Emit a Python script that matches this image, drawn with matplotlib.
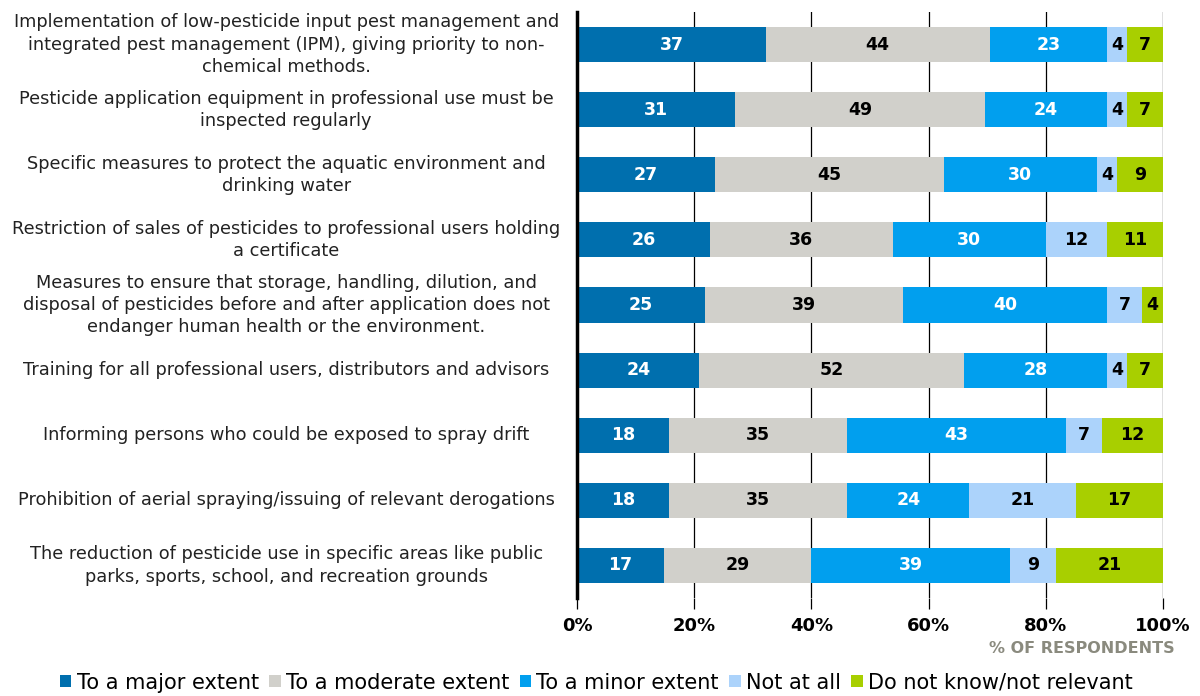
import matplotlib
matplotlib.use('Agg')
import matplotlib.pyplot as plt
import matplotlib.transforms as mtransforms
import numpy as np

categories = [
    "Implementation of low-pesticide input pest management and\nintegrated pest management (IPM), giving priority to non-\nchemical methods.",
    "Pesticide application equipment in professional use must be\ninspected regularly",
    "Specific measures to protect the aquatic environment and\ndrinking water",
    "Restriction of sales of pesticides to professional users holding\na certificate",
    "Measures to ensure that storage, handling, dilution, and\ndisposal of pesticides before and after application does not\nendanger human health or the environment.",
    "Training for all professional users, distributors and advisors",
    "Informing persons who could be exposed to spray drift",
    "Prohibition of aerial spraying/issuing of relevant derogations",
    "The reduction of pesticide use in specific areas like public\nparks, sports, school, and recreation grounds",
]

series_names = ["To a major extent", "To a moderate extent", "To a minor extent",
                "Not at all", "Do not know/not relevant"]

major = [37, 31, 27, 26, 25, 24, 18, 18, 17]
moderate = [44, 49, 45, 36, 39, 52, 35, 35, 29]
minor = [23, 24, 30, 30, 40, 28, 43, 24, 39]
not_at_all = [4, 4, 4, 12, 7, 4, 7, 21, 9]
dont_know = [7, 7, 9, 11, 4, 7, 12, 17, 21]

colors = ['#006fae', '#d1d0cb', '#019fee', '#acd3fb', '#a8cf00']
text_colors = ['white', 'black', 'white', 'black', 'black']

data = np.array([major, moderate, minor, not_at_all, dont_know], dtype=float)
totals = data.sum(axis=0)
pct = data / totals * 100

fig = plt.figure(figsize=(12, 6.96), dpi=100)
ax = fig.add_axes([0.481, 0.1408, 0.488, 0.842])

y = np.arange(len(categories))
left = np.zeros(len(categories))
for i, name in enumerate(series_names):
    ax.barh(y, pct[i], left=left, height=0.54, color=colors[i], label=name,
            edgecolor='none', zorder=3)
    for j in range(len(categories)):
        ax.text(left[j] + pct[i][j] / 2, y[j], str(int(data[i][j])),
                ha='center', va='center', color=text_colors[i],
                fontsize=12.5, fontweight='bold', zorder=4)
    left += pct[i]

ax.set_xlim(0, 100)
ax.set_ylim(len(categories) - 0.5, -0.5)
ax.set_xticks(np.arange(0, 101, 20))
ax.set_xticklabels([f"{v}%" for v in range(0, 101, 20)], fontsize=13, fontweight='bold')
ax.xaxis.grid(True, color='black', linewidth=0.9, zorder=0)
ax.tick_params(axis='x', length=8, width=0.9, pad=6)
ax.set_yticks([])

# category labels, centred in the space left of the bars
trans = mtransforms.blended_transform_factory(ax.transAxes, ax.transData)
for j, cat in enumerate(categories):
    ax.text(-0.497, y[j], cat, transform=trans, ha='center', va='center',
            multialignment='center', fontsize=12.8, color='#222222',
            linespacing=1.3)

for s in ['top', 'right', 'bottom']:
    ax.spines[s].set_visible(False)
ax.spines['left'].set_linewidth(2.5)
ax.spines['left'].set_zorder(5)

fig.text(0.979, 0.068, "% OF RESPONDENTS", ha='right', va='center',
         fontsize=11.5, fontweight='bold', color='#8a8a7e')

fig.legend(loc='lower center', bbox_to_anchor=(0.497, -0.022), ncol=5, frameon=False,
           fontsize=15, handlelength=0.55, handleheight=0.55, handletextpad=0.25,
           columnspacing=0.5)

fig.savefig('out.png', dpi=100)
